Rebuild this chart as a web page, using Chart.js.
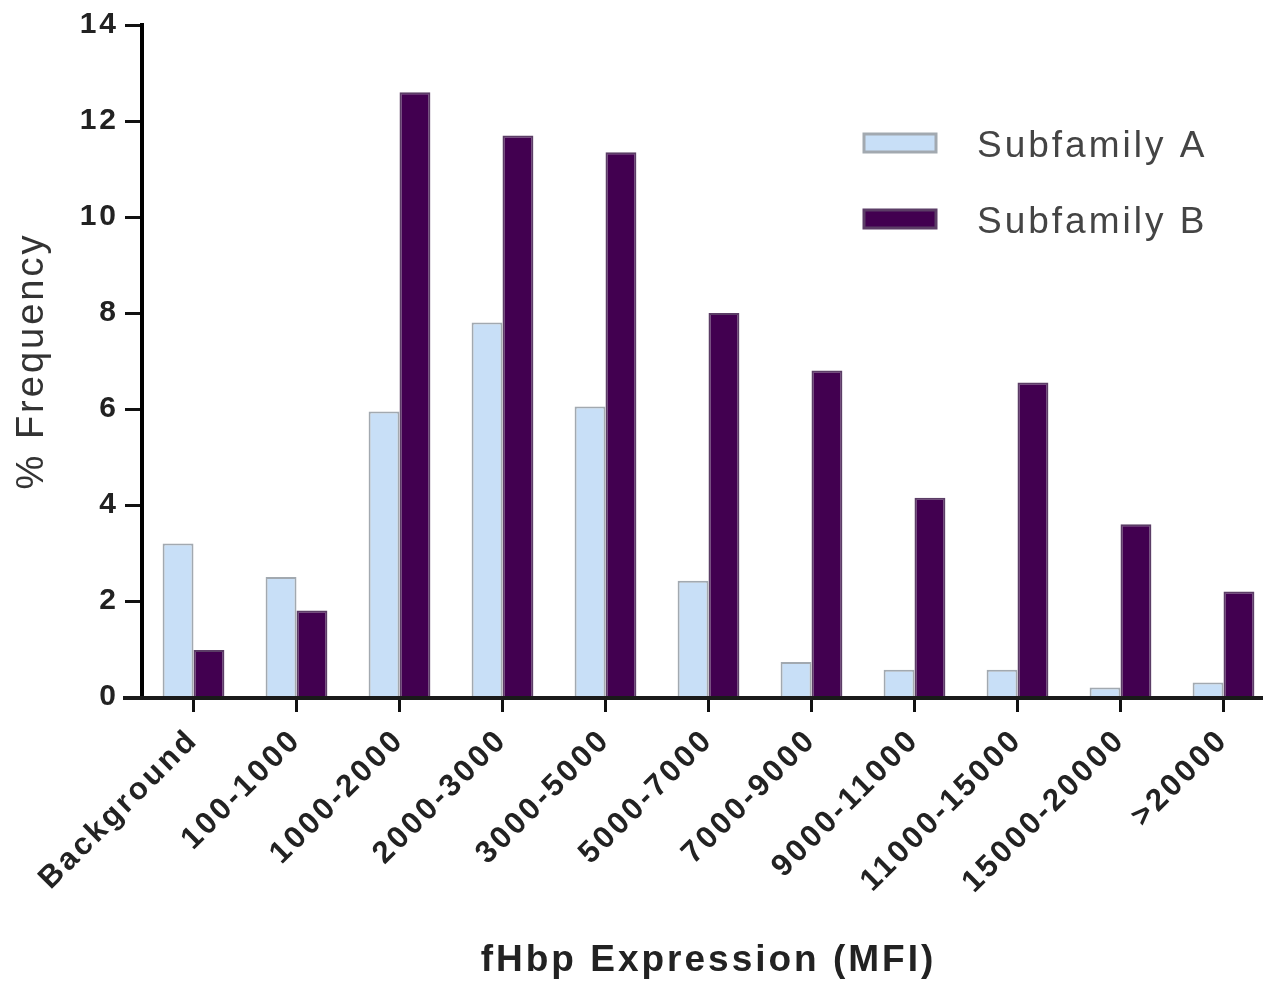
<!DOCTYPE html>
<html>
<head>
<meta charset="utf-8">
<script src="https://cdn.jsdelivr.net/npm/chart.js@4.4.0/dist/chart.umd.min.js"></script>
<style>
  html, body { margin: 0; padding: 0; background: #fff; overflow: hidden; }
  #wrap { width: 1275px; height: 983px; }
</style>
</head>
<body>
<div id="wrap"><canvas id="myChart"></canvas></div>
<script>
// categories and values
const categories = ['Background', '100-1000', '1000-2000', '2000-3000', '3000-5000', '5000-7000',
  '7000-9000', '9000-11000', '11000-15000', '15000-20000', '>20000'];
const subfamilyA = [3.2, 2.5, 5.95, 7.8, 6.05, 2.42, 0.73, 0.57, 0.57, 0.2, 0.3];
const subfamilyB = [0.98, 1.8, 12.6, 11.7, 11.35, 8.0, 6.8, 4.15, 6.55, 3.6, 2.2];
const yTicks = [0, 2, 4, 6, 8, 10, 12, 14];

const FONT = '"Liberation Sans", Arial, sans-serif';

// the original text is a bit spread out, so add some letter spacing
const spacing = {
  id: 'spacing',
  beforeDraw(chart) {
    chart.ctx.letterSpacing = '3px';
  }
};

// draws the x axis line (it runs a bit left of the y axis) and the legend box
const extras = {
  id: 'extras',
  afterDraw(chart) {
    const ctx = chart.ctx;
    const area = chart.chartArea;
    ctx.save();
    ctx.fillStyle = '#1a1a1a';
    ctx.fillRect(area.left - 19, area.bottom - 1, area.right - area.left + 19, 4);

    // legend
    chart.data.datasets.forEach((ds, i) => {
      const y = 143 + i * 76;
      ctx.fillStyle = ds.backgroundColor;
      ctx.strokeStyle = ds.borderColor;
      ctx.lineWidth = 3;
      ctx.fillRect(864, y - 9, 72, 18);
      ctx.strokeRect(864, y - 9, 72, 18);
      ctx.fillStyle = '#444';
      ctx.font = '37px ' + FONT;
      ctx.textBaseline = 'middle';
      ctx.fillText(ds.label, 977, y + 4);
    });
    ctx.restore();
  }
};

const ctx = document.getElementById('myChart').getContext('2d');
const chart = new Chart(ctx, {
  type: 'bar',
  data: {
    labels: categories,
    datasets: [{
      label: 'Subfamily A',
      data: subfamilyA,
      backgroundColor: '#c8dff7',
      borderColor: '#a2a9b0',
      borderWidth: 2,
      borderSkipped: 'bottom'
    }, {
      label: 'Subfamily B',
      data: subfamilyB,
      backgroundColor: '#420050',
      borderColor: '#5b3d66',
      borderWidth: 2,
      borderSkipped: 'bottom'
    }]
  },
  options: {
    responsive: true,
    maintainAspectRatio: false,
    animation: false,
    categoryPercentage: 0.6,
    barPercentage: 1.0,
    layout: { padding: { top: 25, left: 0, right: 0, bottom: 0 } },
    plugins: {
      legend: { display: false },
      tooltip: { enabled: false }
    },
    scales: {
      x: {
        grid: {
          offset: false,
          drawOnChartArea: false,
          drawTicks: true,
          tickLength: 15,
          tickWidth: 3,
          tickColor: '#111'
        },
        border: { display: false },
        ticks: {
          minRotation: 45,
          maxRotation: 45,
          autoSkip: false,
          color: '#222',
          padding: 10,
          font: { family: FONT, size: 31, weight: 'bold' }
        },
        title: {
          display: true,
          text: 'fHbp Expression (MFI)',
          color: '#222',
          padding: { top: 0, bottom: 0 },
          font: { family: FONT, size: 37, weight: 'bold' }
        },
        afterFit(scale) { scale.height = 286; }
      },
      y: {
        min: 0,
        max: 14,
        afterBuildTicks(scale) { scale.ticks = yTicks.map(v => ({ value: v })); },
        grid: {
          drawOnChartArea: false,
          drawTicks: true,
          tickLength: 17,
          tickWidth: 3,
          tickColor: '#111'
        },
        border: { display: true, color: '#000', width: 4 },
        ticks: {
          color: '#222',
          padding: 6,
          font: { family: FONT, size: 30, weight: 'bold' }
        },
        title: {
          display: true,
          text: '% Frequency',
          color: '#333',
          padding: { top: 10, bottom: 0 },
          font: { family: FONT, size: 38 }
        },
        afterFit(scale) { scale.width = 142; }
      }
    }
  },
  plugins: [spacing, extras]
});
</script>
</body>
</html>
